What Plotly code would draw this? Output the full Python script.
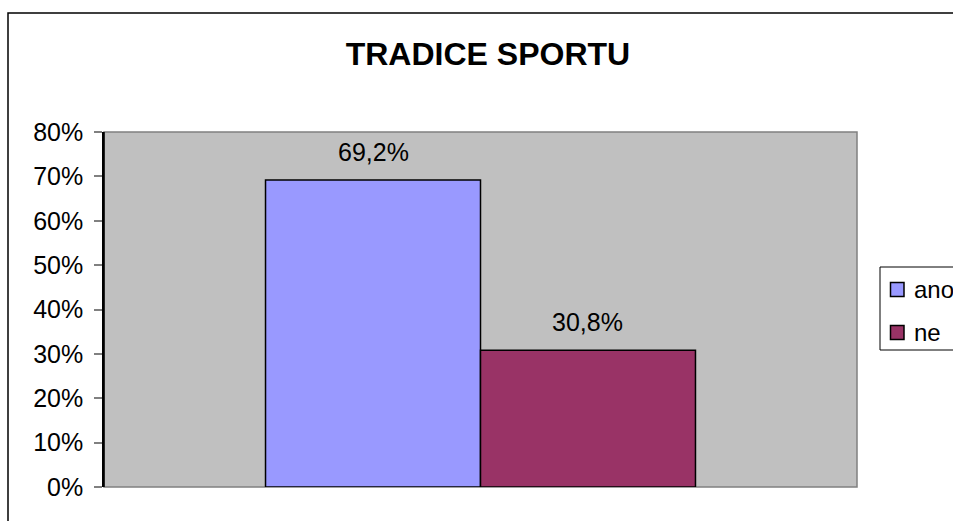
import plotly.graph_objects as go

# Survey answers and their shares
categories = ["ano", "ne"]
shares = [0.692, 0.308]
bar_colors = ["#9999FF", "#993366"]
y_ticks = [0, 0.1, 0.2, 0.3, 0.4, 0.5, 0.6, 0.7, 0.8]
y_tick_labels = ["0%", "10%", "20%", "30%", "40%", "50%", "60%", "70%", "80%"]
title_text = "TRADICE SPORTU"

FONT = "Liberation Sans, Arial, Helvetica, sans-serif"

fig = go.Figure()
for name, val, col in zip(categories, shares, bar_colors):
    fig.add_trace(go.Bar(
        x=["odpověď"], y=[val], name=name,
        marker=dict(color=col, line=dict(color="black", width=1.5)),
        hoverinfo="skip", showlegend=False,
    ))

W, H = 953, 521
L, R, T, B = 104, 857, 132, 487


def px_x(px):
    """Pixel column -> paper x."""
    return (px - L) / (R - L)


def px_y(py):
    """Pixel row -> paper y."""
    return (B - py) / (B - T)


fig.update_layout(
    width=W, height=H,
    margin=dict(l=L, r=W - R, t=T, b=H - B, autoexpand=False),
    paper_bgcolor="white",
    plot_bgcolor="#C0C0C0",
    barmode="group",
    bargap=0.429,
    bargroupgap=0,
    font=dict(family=FONT, size=25, color="black"),
    title=dict(text="<b>" + title_text + "</b>", x=0.512, xanchor="center",
               y=1 - 54 / H, yanchor="middle",
               font=dict(family=FONT, size=32, color="black")),
    showlegend=False,
    xaxis=dict(showticklabels=False, ticks="", showgrid=False, zeroline=False,
               showline=False, fixedrange=True, range=[-0.5, 0.5]),
    yaxis=dict(range=[0, 0.8], tickvals=y_ticks, ticktext=y_tick_labels,
               ticks="outside", ticklen=8, tickcolor="#808080", tickwidth=1.5,
               showgrid=False, zeroline=False,
               showline=True, linecolor="black", linewidth=1.5,
               ticklabelstandoff=6, fixedrange=True),
)

# Plot-area frame (grey top/right/bottom) and outer chart frame
fig.add_shape(type="rect", xref="paper", yref="paper", x0=0, x1=1, y0=0, y1=1,
              line=dict(color="#808080", width=1.5), layer="below")
fig.add_shape(type="line", xref="paper", yref="paper", x0=0, x1=0, y0=0, y1=1,
              line=dict(color="black", width=1.5))
fig.add_shape(type="rect", xref="paper", yref="paper",
              x0=px_x(8), x1=px_x(W + 20), y0=px_y(H + 20), y1=px_y(13),
              line=dict(color="black", width=1.5), fillcolor="rgba(0,0,0,0)",
              layer="below")

# Value labels above each bar
n = len(categories)
for i, (name, val) in enumerate(zip(categories, shares)):
    xpos = -0.5 * (1 - 0.429) + (i + 0.5) * (1 - 0.429) / n
    label = f"{val * 100:.1f}%".replace(".", ",")
    fig.add_annotation(x=xpos, y=val, xref="x", yref="y", text=label,
                       showarrow=False, yanchor="middle", yshift=28,
                       font=dict(family=FONT, size=25, color="black"))

# Legend box with one swatch + label per answer
fig.add_shape(type="rect", xref="paper", yref="paper",
              x0=px_x(880), x1=px_x(W + 20), y0=px_y(350), y1=px_y(267),
              line=dict(color="black", width=1), fillcolor="white")
row_centers = [289.5, 332.5]
for name, col, cy in zip(categories, bar_colors, row_centers):
    fig.add_shape(type="rect", xref="paper", yref="paper",
                  x0=px_x(890.5), x1=px_x(904), y0=px_y(cy + 7), y1=px_y(cy - 7),
                  line=dict(color="black", width=1.5), fillcolor=col)
    fig.add_annotation(x=px_x(912), y=px_y(cy), xref="paper", yref="paper",
                       text=name, showarrow=False, xanchor="left",
                       yanchor="middle", align="left",
                       font=dict(family=FONT, size=24, color="black"))

fig.write_html("out.html")
